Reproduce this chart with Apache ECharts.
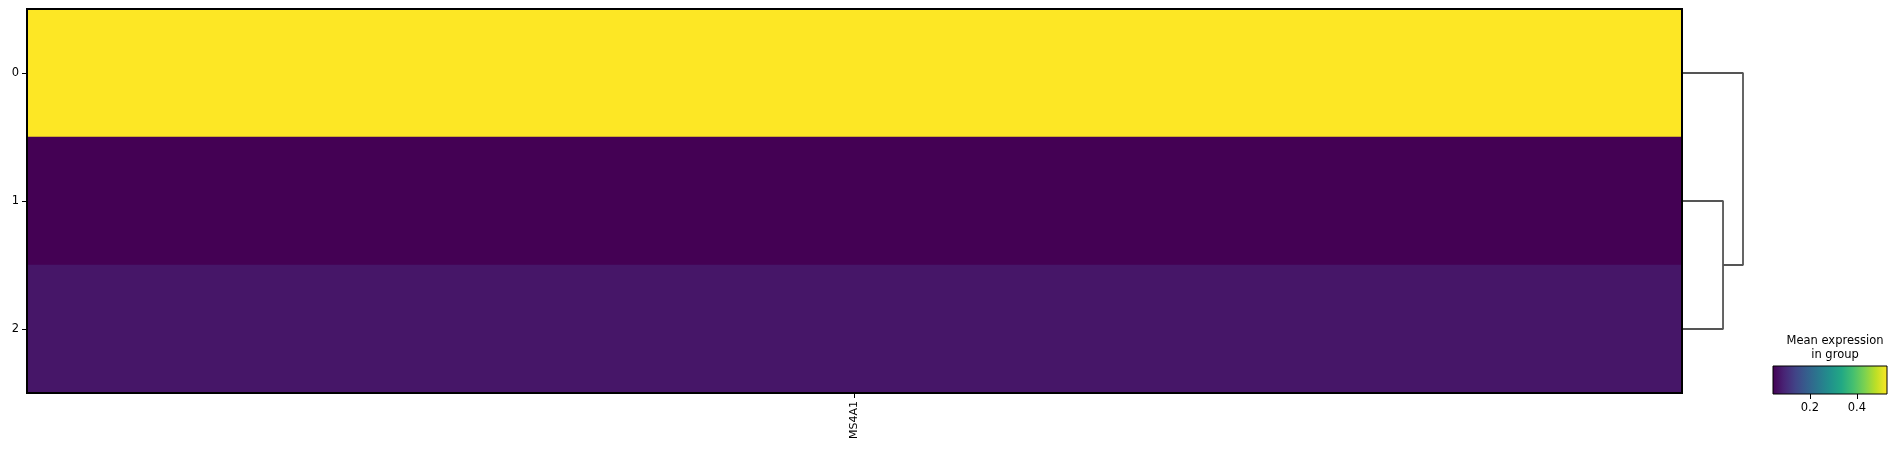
<!DOCTYPE html>
<html>
<head>
<meta charset="utf-8">
<script src="https://cdn.jsdelivr.net/npm/echarts@6/dist/echarts.min.js"></script>
<style>
html,body{margin:0;padding:0;background:#fff;}
#chart{width:1897px;height:454px;}
</style>
</head>
<body>
<div id="chart"></div>
<script>
const groups = ['0', '1', '2'];
const genes = ['MS4A1'];
const meanExpression = [0.528, 0.043, 0.072];
const colorMin = 0.043;
const colorMax = 0.528;
const colorbarTicks = [0.2, 0.4];
const colorbarTitle = 'Mean expression\nin group';
// dendrogram: row positions (index) and merge heights
const dendroLinks = [
  { left: 1, right: 2, height: 0.667 },
  { left: 0, right: 'c12', height: 1.0 }
];
const viridis = ['#440154','#482475','#414487','#355f8d','#2a788e','#21918c','#22a884','#44bf70','#7ad151','#bddf26','#fde725'];

const heatData = [];
genes.forEach((g, gi) => groups.forEach((r, ri) => heatData.push([gi, ri, meanExpression[ri]])));

// build dendrogram lines
const nodePos = {};
groups.forEach((g, i) => { nodePos[i] = { y: i + 0.5, h: 0 }; });
const dendroSeries = [];
dendroLinks.forEach((lk, i) => {
  const a = nodePos[lk.left], b = nodePos[lk.right];
  dendroSeries.push({
    type: 'line', xAxisIndex: 1, yAxisIndex: 1, symbol: 'none', silent: true,
    lineStyle: { color: '#555555', width: 1.8 },
    data: [[a.h, a.y], [lk.height, a.y], [lk.height, b.y], [b.h, b.y]]
  });
  nodePos['c' + lk.left + lk.right] = { y: (a.y + b.y) / 2, h: lk.height };
});

const chart = echarts.init(document.getElementById('chart'), null, { renderer: 'canvas' });
const font = 'DejaVu Sans';
chart.setOption({
  animation: false,
  backgroundColor: '#ffffff',
  textStyle: { fontFamily: font },
  title: {
    text: colorbarTitle, left: 1830, top: 329, textAlign: 'center',
    textStyle: { fontFamily: font, fontSize: 11.5, fontWeight: 'normal', color: '#000', lineHeight: 14 }
  },
  grid: [
    { left: 27, top: 9, width: 1655, height: 384, show: true, borderColor: '#000', borderWidth: 2, backgroundColor: 'transparent', z: 10 },
    { left: 1683, top: 9, width: 60, height: 384 },
    { left: 1773, top: 366, width: 114, height: 28, show: true, borderColor: '#000', borderWidth: 1,
      backgroundColor: new echarts.graphic.LinearGradient(0, 0, 1, 0, viridis.map((c, i) => ({ offset: i / (viridis.length - 1), color: c }))) }
  ],
  xAxis: [
    { type: 'category', gridIndex: 0, data: genes,
      axisLine: { show: false }, splitLine: { show: false },
      axisTick: { show: true, alignWithLabel: true, length: 5, lineStyle: { color: '#000' } },
      axisLabel: { rotate: 90, fontSize: 11, color: '#000', margin: 8, fontFamily: font } },
    { type: 'value', gridIndex: 1, min: 0, max: 1.0, show: false },
    { type: 'value', gridIndex: 2, min: colorMin, max: colorMax, position: 'bottom',
      axisLine: { show: false }, splitLine: { show: false },
      axisTick: { show: true, length: 5, customValues: colorbarTicks, lineStyle: { color: '#000' } },
      axisLabel: { customValues: colorbarTicks, fontSize: 11.5, color: '#000', margin: 8, fontFamily: font, formatter: v => v.toFixed(1) } }
  ],
  yAxis: [
    { type: 'category', gridIndex: 0, data: groups, inverse: true,
      axisLine: { show: false }, splitLine: { show: false },
      axisTick: { show: true, alignWithLabel: true, length: 5, lineStyle: { color: '#000' } },
      axisLabel: { fontSize: 11.5, color: '#000', margin: 8, fontFamily: font } },
    { type: 'value', gridIndex: 1, min: 0, max: groups.length, inverse: true, show: false },
    { type: 'value', gridIndex: 2, min: 0, max: 1, show: false }
  ],
  visualMap: {
    show: false, type: 'continuous', seriesIndex: 0, min: colorMin, max: colorMax, dimension: 2,
    inRange: { color: viridis }
  },
  series: [
    { type: 'heatmap', xAxisIndex: 0, yAxisIndex: 0, data: heatData, itemStyle: { borderWidth: 0 }, emphasis: { disabled: true } }
  ].concat(dendroSeries)
});
</script>
</body>
</html>
